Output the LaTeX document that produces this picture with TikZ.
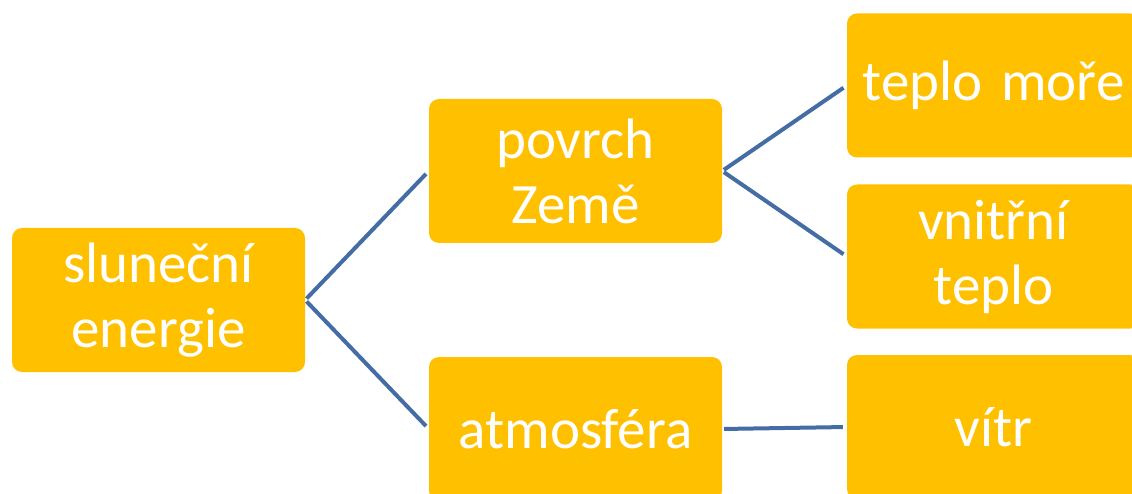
\documentclass[tikz,border=0pt]{standalone}
\usepackage{fontspec}
\setmainfont{Carlito}
\definecolor{boxfill}{RGB}{255,192,0}
\definecolor{linkblue}{RGB}{68,108,165}
\begin{document}
\begin{tikzpicture}[x=1pt,y=1pt,
  box/.style={fill=boxfill, rounded corners=10pt, minimum width=293pt, minimum height=144pt,
    inner sep=0pt, text=white, align=center, text width=289pt,
    font=\fontsize{57}{65}\selectfont},
  link/.style={draw=linkblue, line width=4pt, shorten <=2pt, shorten >=4pt}]
\useasboundingbox (0,0) rectangle (1132,-494);
\clip (0,0) rectangle (1132,-494);
\node[box] (sl) at (158.5,-300) {sluneční\\energie};
\node[box] (po) at (575.5,-171) {povrch\\Země};
\node[box] (at) at (575.5,-429) {atmosféra};
\node[box] (tm) at (993.5,-85.5) {teplo moře};
\node[box] (vn) at (993.5,-256.5) {vnitřní\\teplo};
\node[box] (vi) at (993.5,-427) {vítr};
\draw[link] (sl.east) -- (po.west);
\draw[link] (sl.east) -- (at.west);
\draw[link] (po.east) -- (tm.west);
\draw[link] (po.east) -- (vn.west);
\draw[link] (at.east) -- (vi.west);
\end{tikzpicture}
\end{document}
